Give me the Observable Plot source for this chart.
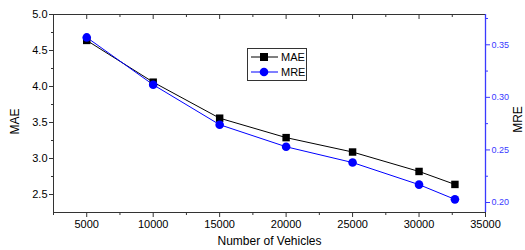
<!DOCTYPE html>
<html><head>
<meta charset="utf-8">
<script src="https://cdn.jsdelivr.net/npm/d3@7"></script>
<script src="https://cdn.jsdelivr.net/npm/@observablehq/plot@0.6"></script>
<style>
body{margin:0;background:#fff;font-family:"Liberation Sans",Arial,sans-serif}
#wrap{position:relative;width:525px;height:250px}
.legend{position:absolute;left:247px;top:48px;width:60px;height:33px;border:1px solid #333;box-sizing:border-box;background:#fff;font-size:11px;color:#000}
.legend .row{position:absolute;left:0;height:14px;width:100%}
.legend svg{position:absolute;left:2px;top:0}
.legend span{position:absolute;left:33px;top:0;line-height:14px}
</style></head><body><div id="wrap"></div>
<script>
const vehicles = [5000, 10000, 15000, 20000, 25000, 30000, 32700];
const mae = [4.64, 4.06, 3.56, 3.29, 3.09, 2.82, 2.64];
const mre = [0.357, 0.312, 0.274, 0.253, 0.238, 0.217, 0.203];
const xTicks = [5000, 10000, 15000, 20000, 25000, 30000, 35000];
const xMinor = [2500, 7500, 12500, 17500, 22500, 27500, 32500];
const maeTicks = [2.5, 3.0, 3.5, 4.0, 4.5, 5.0];
const maeMinor = [2.75, 3.25, 3.75, 4.25, 4.75];
const mreTicks = [0.20, 0.25, 0.30, 0.35];
const mreMinor = [0.225, 0.275, 0.325, 0.375];
const seriesNames = ["MAE", "MRE"];

const maeDomain = [2.25, 5.0];
const mreDomain = [0.1905, 0.3788];
const BLUE = "#0000ff";
const AXBLUE = "#3a3aff";
const mreToY = v => maeDomain[0] + (v - mreDomain[0]) / (mreDomain[1] - mreDomain[0]) * (maeDomain[1] - maeDomain[0]);
const yToMre = y => mreDomain[0] + (y - maeDomain[0]) / (maeDomain[1] - maeDomain[0]) * (mreDomain[1] - mreDomain[0]);

const maeData = vehicles.map((x, i) => ({x, y: mae[i]}));
const mreData = vehicles.map((x, i) => ({x, y: mreToY(mre[i])}));
const none = () => "";

const chart = Plot.plot({
  width: 525, height: 250,
  marginLeft: 53, marginRight: 40, marginTop: 14, marginBottom: 38,
  style: {fontFamily: '"Liberation Sans", Arial, sans-serif', fontSize: "11px", color: "#000", background: "#fff"},
  x: {domain: [2500, 35000]},
  y: {domain: maeDomain},
  marks: [
    Plot.frame({stroke: "#333", strokeWidth: 1}),
    Plot.axisX(xTicks, {anchor: "bottom", tickSize: 5, tickPadding: 3, tickFormat: d => String(d), label: null, stroke: "#333"}),
    Plot.axisX(xMinor, {anchor: "bottom", tickSize: 3, tickFormat: none, label: null, stroke: "#333"}),
    Plot.axisX(xTicks, {anchor: "top", tickSize: -4, tickFormat: none, label: null, stroke: "#333"}),
    Plot.axisX(xMinor, {anchor: "top", tickSize: -2, tickFormat: none, label: null, stroke: "#333"}),
    Plot.axisY(maeTicks, {anchor: "left", tickSize: 4, tickPadding: 2, tickFormat: d => d.toFixed(1), label: null, stroke: "#333"}),
    Plot.axisY(maeMinor, {anchor: "left", tickSize: 2, tickFormat: none, label: null, stroke: "#333"}),
    Plot.axisY(mreTicks.map(mreToY), {anchor: "right", tickSize: 4, tickPadding: 2, tickFormat: d => yToMre(d).toFixed(2), label: null, stroke: AXBLUE, fill: AXBLUE, fontSize: 9}),
    Plot.axisY(mreMinor.map(mreToY), {anchor: "right", tickSize: 2, tickFormat: none, label: null, stroke: AXBLUE}),
    Plot.ruleX([35000], {stroke: AXBLUE, strokeWidth: 1.3}),
    Plot.text(["Number of Vehicles"], {frameAnchor: "bottom", textAnchor: "middle", dy: 32, fontSize: 12, fill: "#000"}),
    Plot.text(["MAE"], {frameAnchor: "left", textAnchor: "middle", rotate: -90, dx: -38, dy: 8, fontSize: 12, fill: "#000"}),
    Plot.text(["MRE"], {frameAnchor: "right", textAnchor: "middle", rotate: -90, dx: 33, dy: 6, fontSize: 12, fill: "#000"}),
    Plot.line(maeData, {x: "x", y: "y", stroke: "#000", strokeWidth: 1}),
    Plot.line(mreData, {x: "x", y: "y", stroke: BLUE, strokeWidth: 1}),
    Plot.dot(maeData, {x: "x", y: "y", symbol: "square", r: 4.2, fill: "#000", stroke: "none"}),
    Plot.dot(mreData, {x: "x", y: "y", symbol: "circle", r: 4.3, fill: BLUE, stroke: "none"})
  ]
});
const wrap = document.getElementById("wrap");
wrap.appendChild(chart);

// legend
const leg = document.createElement("div");
leg.className = "legend";
const styles = [{color: "#000", sym: "square"}, {color: BLUE, sym: "circle"}];
seriesNames.forEach((name, i) => {
  const row = document.createElement("div");
  row.className = "row";
  row.style.top = (i === 0 ? 1 : 16) + "px";
  const s = styles[i];
  const symbol = s.sym === "square"
    ? `<rect x="10" y="3" width="8" height="8" fill="${s.color}"/>`
    : `<circle cx="14" cy="7" r="4.3" fill="${s.color}"/>`;
  row.innerHTML = `<svg width="30" height="14"><line x1="1" x2="28" y1="7" y2="7" stroke="${s.color}" stroke-width="1"/>${symbol}</svg><span>${name}</span>`;
  leg.appendChild(row);
});
wrap.appendChild(leg);
</script>
</body></html>
